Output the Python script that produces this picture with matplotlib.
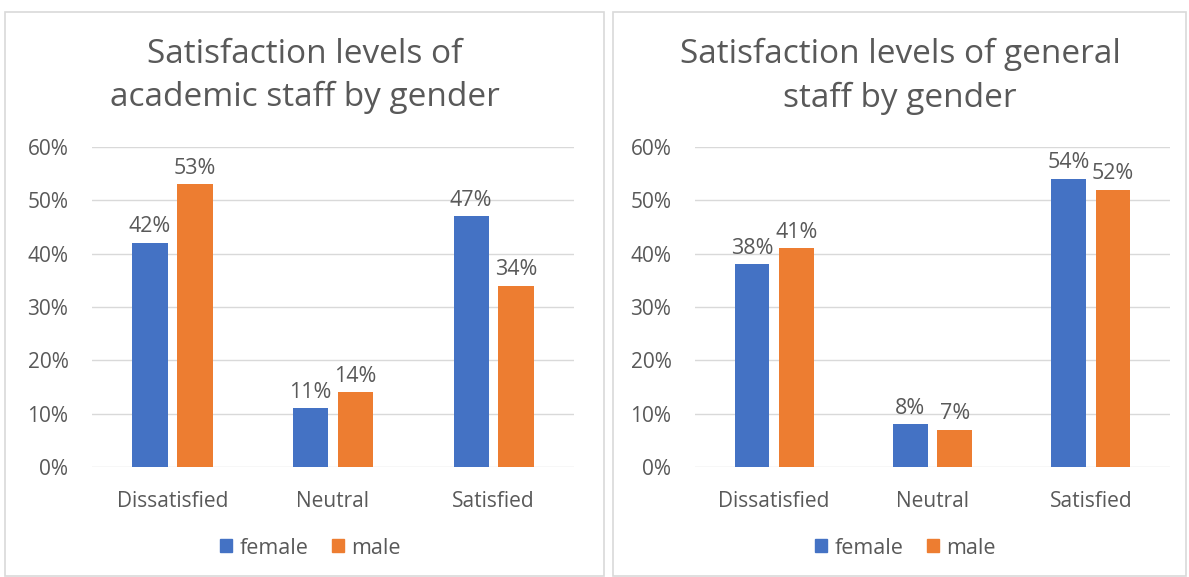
import matplotlib
matplotlib.use("Agg")
import matplotlib.pyplot as plt
from matplotlib.patches import Rectangle, Patch
import numpy as np

categories = ["Dissatisfied", "Neutral", "Satisfied"]
academic_female = [42, 11, 47]
academic_male = [53, 14, 34]
general_female = [38, 8, 54]
general_male = [41, 7, 52]
yticks = [0, 10, 20, 30, 40, 50, 60]
titles = ["Satisfaction levels of\nacademic staff by gender",
          "Satisfaction levels of general\nstaff by gender"]

BLUE = "#4472C4"
ORANGE = "#ED7D31"
TXT = "#595959"
GRID = "#D9D9D9"
FONT = ["Open Sans", "DejaVu Sans"]
plt.rcParams['font.family'] = FONT

W, H = 1189, 577
fig = plt.figure(figsize=(W / 100, H / 100), dpi=100)
fig.patch.set_facecolor("white")

def fx(px):
    return px / W

def fy(py):
    return 1 - py / H

# panel borders
panel_bounds = [(5, 604), (613, 1186)]
for (x0, x1) in panel_bounds:
    fig.patches.append(Rectangle((fx(x0), fy(576)), fx(x1 - x0), (576 - 12) / H,
                                 transform=fig.transFigure, facecolor="none",
                                 edgecolor="#D9D9D9", linewidth=1.2, zorder=0))

panels = [
    (92, 574, academic_female, academic_male, titles[0], 305, panel_bounds[0]),
    (695, 1170, general_female, general_male, titles[1], 900, panel_bounds[1]),
]

FS = 15
FL = 15.5
for (x0, x1, fem, mal, title, tcx, pb) in panels:
    ax = fig.add_axes([fx(x0), fy(467), fx(x1 - x0), (467 - 147) / H])
    ax.set_zorder(2)
    x = np.arange(len(categories))
    w = 0.22
    off = 0.14
    b1 = ax.bar(x - off, fem, width=w, color=BLUE, label="female", zorder=3)
    b2 = ax.bar(x + off, mal, width=w, color=ORANGE, label="male", zorder=3)
    for bars, vals in [(b1, fem), (b2, mal)]:
        for r, v in zip(bars, vals):
            ax.annotate(f"{v}%", (r.get_x() + r.get_width() / 2, v),
                        xytext=(0, 4), textcoords="offset points",
                        ha="center", va="bottom", fontsize=FL, color=TXT)
    ax.set_xlim(-0.5, 2.5)
    ax.set_ylim(0, 60)
    ax.set_yticks(yticks)
    ax.set_yticklabels([f"{t}%" for t in yticks])
    ax.set_xticks(x)
    ax.set_xticklabels(categories)
    ax.tick_params(axis="both", length=0, labelsize=FS, colors=TXT)
    ax.tick_params(axis="y", pad=17)
    ax.tick_params(axis="x", pad=17)
    ax.grid(axis="y", color=GRID, linewidth=1, zorder=0)
    for s in ax.spines.values():
        s.set_visible(False)
    ax.set_facecolor("none")
    fig.text(fx(tcx), fy(76), title, ha="center", va="center",
             fontsize=24, color=TXT, linespacing=1.42)
    handles = [Patch(color=BLUE), Patch(color=ORANGE)]
    fig.legend(handles, ["female", "male"], loc="center",
               bbox_to_anchor=(fx((pb[0] + pb[1]) / 2 + 6), fy(548)), ncol=2,
               frameon=False, fontsize=FL, labelcolor=TXT,
               handlelength=0.55, handleheight=0.55, handletextpad=0.35,
               columnspacing=1.1)

fig.savefig("out.png", dpi=100, facecolor="white")
